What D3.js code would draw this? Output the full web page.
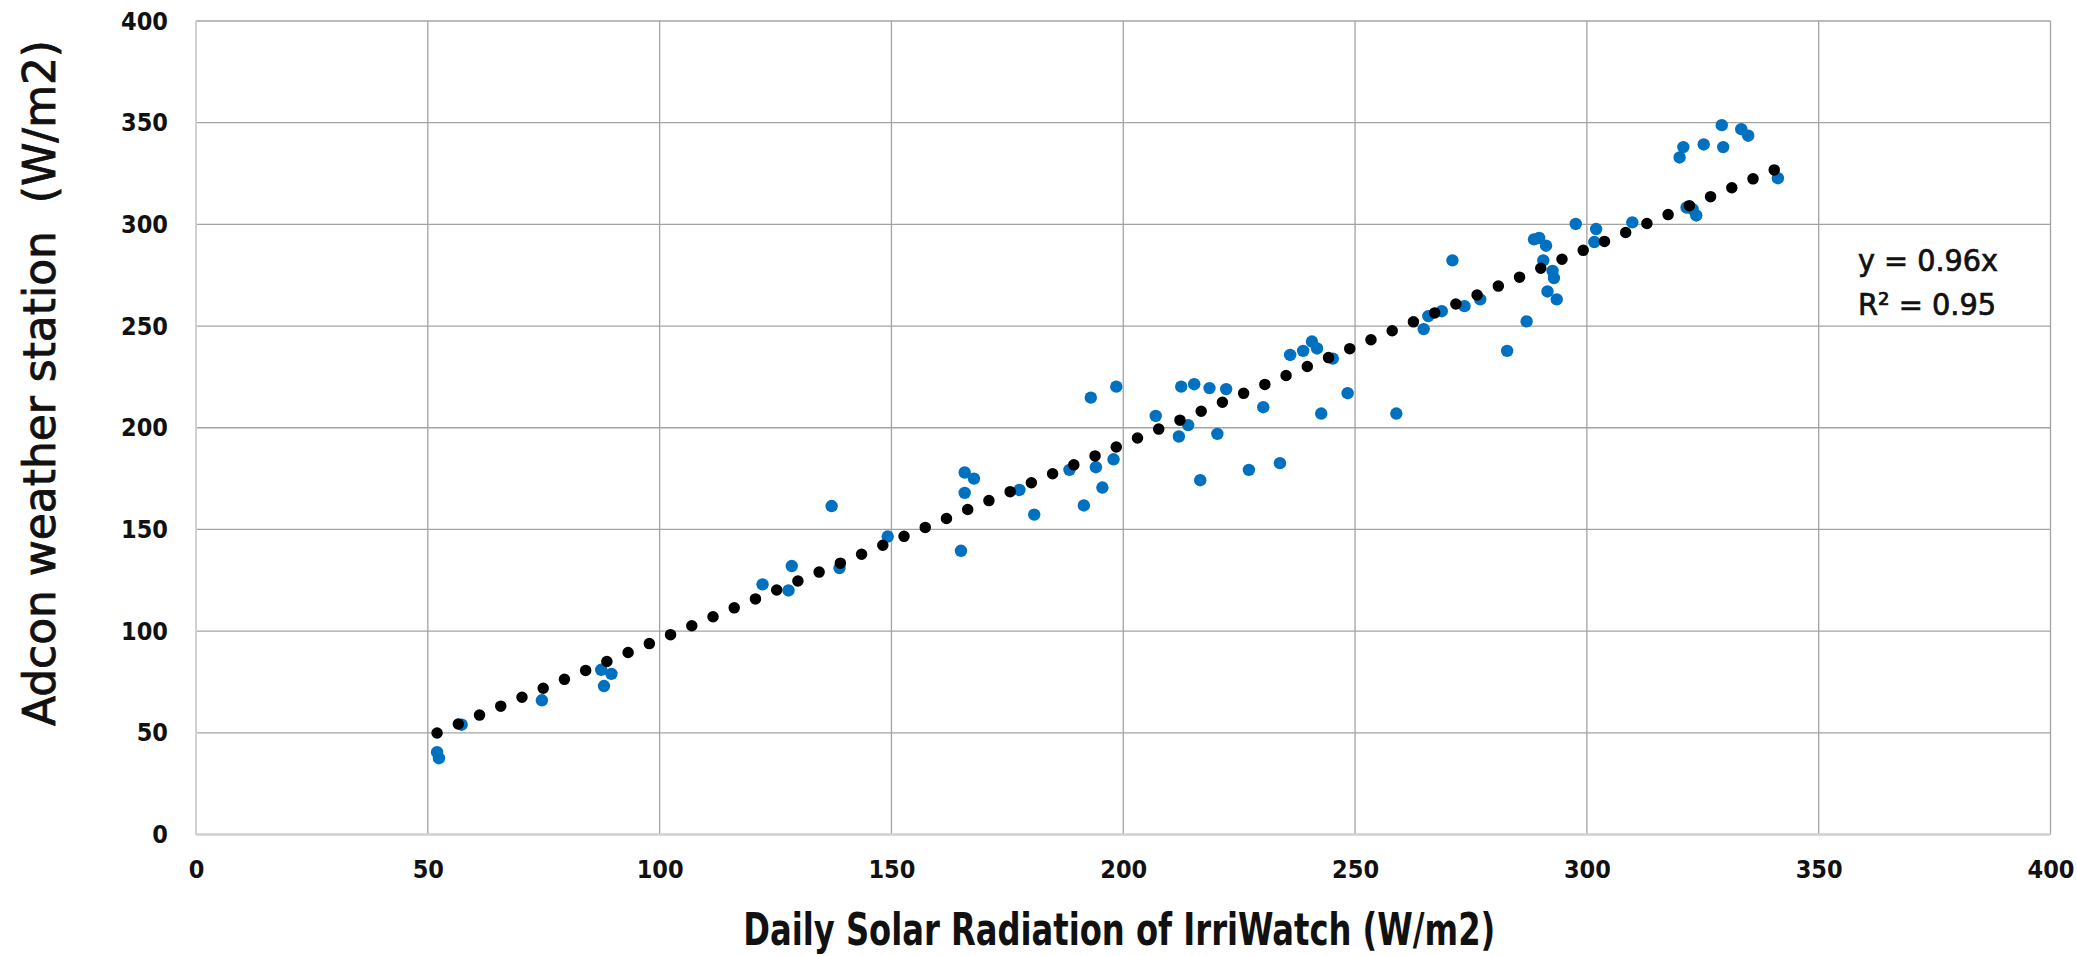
<!DOCTYPE html>
<html>
<head>
<meta charset="utf-8">
<script src="https://cdn.jsdelivr.net/npm/d3@7"></script>
<style>
  html, body { margin: 0; padding: 0; background: #fff; }
  svg text { font-family: "DejaVu Sans Condensed", "DejaVu Sans", sans-serif; fill: #111; }
</style>
</head>
<body>
<div id="chart"></div>
<script>
// IrriWatch (x) vs Adcon station (y), daily solar radiation, W/m2
const irriWatch = [
  52.0, 52.4, 57.3, 74.6, 87.4, 88.0, 89.6,
  122.2, 127.8, 128.5, 137.1, 138.8, 149.2,
  165.0, 165.8, 165.8, 167.8,
  177.6, 180.8, 188.4, 191.5, 193.0, 194.1, 195.5, 197.9, 198.5,
  207.0, 212.0, 212.5, 214.0, 215.3, 216.6, 218.6, 220.3, 222.2,
  227.1, 230.2, 233.8, 236.0, 238.8, 240.7, 241.8, 242.7, 245.2, 248.4,
  258.9, 264.8, 265.8, 268.7, 271.0, 273.6, 277.0,
  282.8, 287.0, 288.6, 289.7, 290.6, 291.2, 291.5, 292.6, 292.9, 293.5, 297.6, 301.6, 302.0, 309.8,
  320.0, 320.8, 321.5, 322.8, 323.6, 325.2, 329.1, 329.4, 333.3, 334.8, 341.2
];
const adcon = [
  40.5, 37.5, 54.0, 66.0, 81.0, 73.0, 79.0,
  123.0, 120.0, 132.0, 161.5, 131.0, 146.5,
  139.5, 168.0, 178.0, 175.0,
  169.4, 157.3, 179.3, 161.8, 214.8, 180.6, 170.6, 184.5, 220.2,
  205.8, 195.7, 220.2, 201.3, 221.4, 174.2, 219.5, 197.0, 219.0,
  179.3, 210.1, 182.6, 235.8, 237.8, 242.4, 239.0, 207.0, 234.0, 217.0,
  207.0, 248.5, 254.9, 257.3, 282.3, 259.8, 263.1,
  237.8, 252.3, 292.6, 293.3, 282.3, 289.5, 267.0, 277.1, 273.6, 263.1, 300.2, 291.3, 297.7, 301.0,
  332.9, 338.0, 308.3, 307.5, 304.4, 339.3, 348.8, 338.0, 346.8, 343.6, 322.7
];
const slope = 0.96;
const rSquared = 0.95;
const xTicks = [0, 50, 100, 150, 200, 250, 300, 350, 400];
const yTicks = [0, 50, 100, 150, 200, 250, 300, 350, 400];

const W = 2077, H = 956;
const plot = { left: 196, right: 2050.5, top: 21, bottom: 834.5 };

const svg = d3.select('#chart').append('svg')
  .attr('width', W).attr('height', H)
  .attr('viewBox', `0 0 ${W} ${H}`);

const x = d3.scaleLinear().domain([0, 400]).range([plot.left, plot.right]);
const y = d3.scaleLinear().domain([0, 400]).range([plot.bottom, plot.top]);

// grid
const grid = svg.append('g');
grid.selectAll('line.vx')
  .data(xTicks.filter((t) => t > 0))
  .join('line')
  .attr('x1', (d) => x(d)).attr('x2', (d) => x(d))
  .attr('y1', plot.top).attr('y2', plot.bottom)
  .attr('stroke', '#a3a3a3').attr('stroke-width', 1.3);
grid.selectAll('line.hy')
  .data(yTicks.filter((t) => t > 0))
  .join('line')
  .attr('x1', plot.left).attr('x2', plot.right)
  .attr('y1', (d) => y(d)).attr('y2', (d) => y(d))
  .attr('stroke', '#a3a3a3').attr('stroke-width', 1.3);
// axis lines (lighter)
grid.append('line')
  .attr('x1', x(0)).attr('x2', x(0)).attr('y1', plot.top).attr('y2', plot.bottom)
  .attr('stroke', '#d0d0d0').attr('stroke-width', 2);
grid.append('line')
  .attr('x1', plot.left).attr('x2', plot.right).attr('y1', y(0)).attr('y2', y(0))
  .attr('stroke', '#d0d0d0').attr('stroke-width', 2.5);

// tick labels
const xAxis = svg.append('g')
  .attr('transform', `translate(0,${plot.bottom})`)
  .call(d3.axisBottom(x).tickValues(xTicks).tickSize(0).tickPadding(26));
const yAxis = svg.append('g')
  .attr('transform', `translate(${plot.left},0)`)
  .call(d3.axisLeft(y).tickValues(yTicks).tickSize(0).tickPadding(28));
[xAxis, yAxis].forEach((a) => {
  a.select('.domain').remove();
  a.selectAll('text')
    .style('font-family', '"DejaVu Sans Condensed", "DejaVu Sans", sans-serif')
    .style('font-size', '25px')
    .style('font-weight', 'bold')
    .attr('fill', '#111');
});

// observations
const pts = irriWatch.map((v, i) => ({ x: v, y: adcon[i] }));
svg.append('g').selectAll('circle')
  .data(pts)
  .join('circle')
  .attr('cx', (d) => x(d.x))
  .attr('cy', (d) => y(d.y))
  .attr('r', 6.2)
  .attr('fill', '#0070c0');

// dotted trendline through the origin, y = 0.96x
const xMin = d3.min(irriWatch), xMax = d3.max(irriWatch);
svg.append('line')
  .attr('x1', x(xMin)).attr('y1', y(slope * xMin))
  .attr('x2', x(xMax)).attr('y2', y(slope * xMax))
  .attr('stroke', '#000')
  .attr('stroke-width', 11.5)
  .attr('stroke-linecap', 'round')
  .attr('stroke-dasharray', '0 23.03');

// equation
const eq = svg.append('g').attr('transform', 'translate(1858,0)');
eq.append('text').attr('x', 0).attr('y', 271)
  .attr('textLength', 140).attr('lengthAdjust', 'spacingAndGlyphs')
  .style('font-size', '31px')
  .style('stroke', '#111').style('stroke-width', 0.7)
  .text(`y = ${slope.toFixed(2)}x`);
eq.append('text').attr('x', 0).attr('y', 315)
  .attr('textLength', 138).attr('lengthAdjust', 'spacingAndGlyphs')
  .style('font-size', '31px')
  .style('stroke', '#111').style('stroke-width', 0.7)
  .text(`R² = ${rSquared.toFixed(2)}`);

// axis titles
svg.append('text')
  .attr('x', (plot.left + plot.right) / 2 - 4)
  .attr('y', 945)
  .attr('text-anchor', 'middle')
  .attr('textLength', 752).attr('lengthAdjust', 'spacingAndGlyphs')
  .style('font-size', '44px')
  .style('font-weight', 'bold')
  .text('Daily Solar Radiation of IrriWatch (W/m2)');

svg.append('text')
  .attr('transform', 'translate(55,383) rotate(-90)')
  .attr('text-anchor', 'middle')
  .attr('textLength', 686).attr('lengthAdjust', 'spacingAndGlyphs')
  .style('font-size', '45px')
  .style('stroke', '#111').style('stroke-width', 0.8)
  .style('white-space', 'pre')
  .text('Adcon weather station  (W/m2)');
</script>
</body>
</html>
